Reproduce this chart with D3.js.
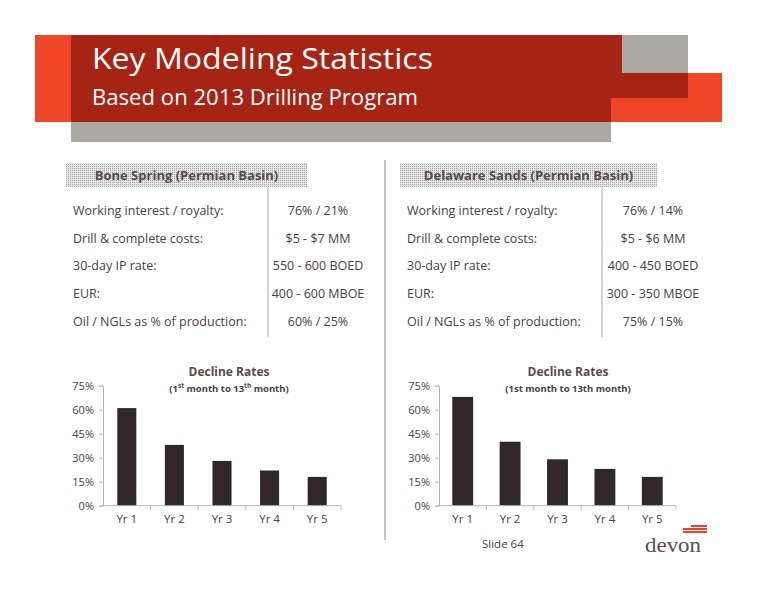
<!DOCTYPE html>
<html>
<head>
<meta charset="utf-8">
<title>Key Modeling Statistics</title>
<script src="https://cdn.jsdelivr.net/npm/d3@7"></script>
<style>
  body { margin: 0; background: #fff; }
  svg text { font-family: "Open Sans", "DejaVu Sans", sans-serif; }
</style>
</head>
<body>
<script>
// data
var years = ['Yr 1', 'Yr 2', 'Yr 3', 'Yr 4', 'Yr 5'];
var boneSpringDecline = [61, 38, 28, 22, 18];
var delawareDecline = [68, 40, 29, 23, 18];
var yTicks = [0, 15, 30, 45, 60, 75];

var rowLabels = ['Working interest / royalty:', 'Drill & complete costs:', '30-day IP rate:', 'EUR:', 'Oil / NGLs as % of production:'];
var boneSpringValues = ['76% / 21%', '$5 - $7 MM', '550 - 600 BOED', '400 - 600 MBOE', '60% / 25%'];
var delawareValues = ['76% / 14%', '$5 - $6 MM', '400 - 450 BOED', '300 - 350 MBOE', '75% / 15%'];

var textColor = '#4a4040';
var barColor = '#31262a';

var svg = d3.select('body').append('svg')
    .attr('width', 776)
    .attr('height', 600);

// ---- header banner ----
var defs = svg.append('defs');
var pat = defs.append('pattern')
    .attr('id', 'dots')
    .attr('width', 2).attr('height', 2)
    .attr('patternUnits', 'userSpaceOnUse');
pat.append('rect').attr('width', 2).attr('height', 2).attr('fill', '#e4e4e4');
pat.append('rect').attr('width', 1).attr('height', 1).attr('fill', '#a8a8a8');

svg.append('rect').attr('x', 35).attr('y', 35).attr('width', 36).attr('height', 87).attr('fill', '#f04628');
svg.append('rect').attr('x', 611).attr('y', 73).attr('width', 111).attr('height', 49).attr('fill', '#f04628');
svg.append('path')
    .attr('d', 'M71,35 H622 V73 H688 V98 H611 V122 H71 Z')
    .attr('fill', '#a52414');
svg.append('rect').attr('x', 622).attr('y', 35).attr('width', 66).attr('height', 38).attr('fill', '#aca8a3');
svg.append('rect').attr('x', 71).attr('y', 122).attr('width', 540).attr('height', 20).attr('fill', '#aca8a3');

svg.append('text')
    .attr('x', 92).attr('y', 69)
    .attr('fill', '#fff')
    .attr('font-size', 30)
    .attr('textLength', 341).attr('lengthAdjust', 'spacingAndGlyphs')
    .text('Key Modeling Statistics');
svg.append('text')
    .attr('x', 92).attr('y', 105)
    .attr('fill', '#fff')
    .attr('font-size', 21)
    .attr('textLength', 326).attr('lengthAdjust', 'spacingAndGlyphs')
    .text('Based on 2013 Drilling Program');

// middle separator
svg.append('line')
    .attr('x1', 385).attr('x2', 385)
    .attr('y1', 160).attr('y2', 540)
    .attr('stroke', '#c4c4c4').attr('stroke-width', 2);

// ---- tables ----
function makeTable(obj) {
    var g = svg.append('g');
    g.append('rect')
        .attr('x', obj.x).attr('y', 163)
        .attr('width', obj.w).attr('height', 24)
        .attr('fill', 'url(#dots)');
    g.append('text')
        .attr('x', obj.x + obj.w / 2).attr('y', 180)
        .attr('text-anchor', 'middle')
        .attr('font-size', 13).attr('font-weight', 'bold')
        .attr('fill', '#5a4b4b')
        .text(obj.title);
    g.append('line')
        .attr('x1', obj.divider).attr('x2', obj.divider)
        .attr('y1', 187).attr('y2', 337)
        .attr('stroke', '#c4c4c4').attr('stroke-width', 1.5);
    g.selectAll('.lbl').data(rowLabels).enter().append('text')
        .attr('x', obj.labelX)
        .attr('y', function(d, i) { return 215 + i * 27.7; })
        .attr('font-size', 12.5)
        .attr('fill', textColor)
        .text(function(d) { return d; });
    g.selectAll('.val').data(obj.values).enter().append('text')
        .attr('x', obj.valueX)
        .attr('y', function(d, i) { return 215 + i * 27.7; })
        .attr('text-anchor', 'middle')
        .attr('font-size', 12.5)
        .attr('fill', textColor)
        .text(function(d) { return d; });
}

makeTable({x: 66, w: 241, title: 'Bone Spring (Permian Basin)', divider: 268, labelX: 73, valueX: 318, values: boneSpringValues});
makeTable({x: 400, w: 257, title: 'Delaware Sands (Permian Basin)', divider: 602, labelX: 407, valueX: 653, values: delawareValues});

// ---- decline rate charts ----
function makeChart(obj) {
    var g = svg.append('g');
    var x = d3.scaleBand().domain(years).range([obj.x0, obj.x1])
        .paddingInner(obj.pad).paddingOuter(obj.pad / 2);
    var y = d3.scaleLinear().domain([0, 75]).range([505.7, 385.7]);

    g.selectAll('rect.bar').data(obj.values).enter().append('rect')
        .attr('class', 'bar')
        .attr('x', function(d, i) { return x(years[i]); })
        .attr('y', function(d) { return y(d); })
        .attr('width', x.bandwidth())
        .attr('height', function(d) { return y(0) - y(d); })
        .attr('fill', barColor);

    var yAxis = g.append('g')
        .attr('transform', 'translate(' + obj.x0 + ',0)')
        .call(d3.axisLeft(y).tickValues(yTicks).tickSize(4).tickPadding(5)
            .tickFormat(function(d) { return d + '%'; }));
    yAxis.selectAll('text').attr('font-size', 11).attr('fill', textColor)
        .style('font-family', '"Open Sans", sans-serif');
    yAxis.select('.domain').attr('stroke', '#b4b4b4');
    yAxis.selectAll('.tick line').attr('stroke', '#b4b4b4');

    // x axis: ticks between categories, labels centred under bars
    var step = x.step();
    var xAxis = g.append('g').attr('transform', 'translate(0,' + y(0) + ')');
    xAxis.append('line')
        .attr('x1', obj.x0).attr('x2', obj.x1)
        .attr('stroke', '#b4b4b4');
    xAxis.selectAll('line.tk').data(years).enter().append('line')
        .attr('class', 'tk')
        .attr('x1', function(d, i) { return obj.x0 + (i + 1) * step; })
        .attr('x2', function(d, i) { return obj.x0 + (i + 1) * step; })
        .attr('y1', 0).attr('y2', 4)
        .attr('stroke', '#b4b4b4');
    xAxis.selectAll('text').data(years).enter().append('text')
        .attr('x', function(d) { return x(d) + x.bandwidth() / 2; })
        .attr('y', 17)
        .attr('text-anchor', 'middle')
        .attr('font-size', 11.5)
        .attr('fill', textColor)
        .text(function(d) { return d; });

    var cx = obj.titleX;
    g.append('text')
        .attr('x', cx).attr('y', 376)
        .attr('text-anchor', 'middle')
        .attr('font-size', 12).attr('font-weight', 'bold')
        .attr('fill', '#5a4b4b')
        .text('Decline Rates');
    var sub = g.append('text')
        .attr('x', cx).attr('y', 392)
        .attr('text-anchor', 'middle')
        .attr('font-size', 9.5).attr('font-weight', 'bold')
        .attr('fill', textColor);
    if (obj.sup) {
        sub.append('tspan').text('(1');
        sub.append('tspan').attr('font-size', 6.5).attr('dy', -4).text('st');
        sub.append('tspan').attr('dy', 4).text(' month to 13');
        sub.append('tspan').attr('font-size', 6.5).attr('dy', -4).text('th');
        sub.append('tspan').attr('dy', 4).text(' month)');
    } else {
        sub.text('(1st month to 13th month)');
    }
}

makeChart({x0: 103, x1: 341, pad: 0.6, values: boneSpringDecline, titleX: 229, sup: true});
makeChart({x0: 439, x1: 676, pad: 0.56, values: delawareDecline, titleX: 568, sup: false});

// ---- footer ----
svg.append('text')
    .attr('x', 482).attr('y', 548)
    .attr('font-size', 11.5)
    .attr('fill', textColor)
    .text('Slide 64');

// devon logo stripes
var stripes = [[691, 525, 16], [683, 528, 24], [683, 531, 24]];
svg.selectAll('rect.logo').data(stripes).enter().append('rect')
    .attr('class', 'logo')
    .attr('x', function(d) { return d[0]; })
    .attr('y', function(d) { return d[1]; })
    .attr('width', function(d) { return d[2]; })
    .attr('height', 2)
    .attr('shape-rendering', 'crispEdges')
    .attr('fill', '#ec3f24');
svg.append('text')
    .attr('x', 645).attr('y', 552)
    .attr('font-size', 22)
    .attr('fill', '#5a4b4b')
    .style('font-family', '"Liberation Serif", "DejaVu Serif", serif')
    .attr('textLength', 56).attr('lengthAdjust', 'spacingAndGlyphs')
    .text('devon');
</script>
</body>
</html>
